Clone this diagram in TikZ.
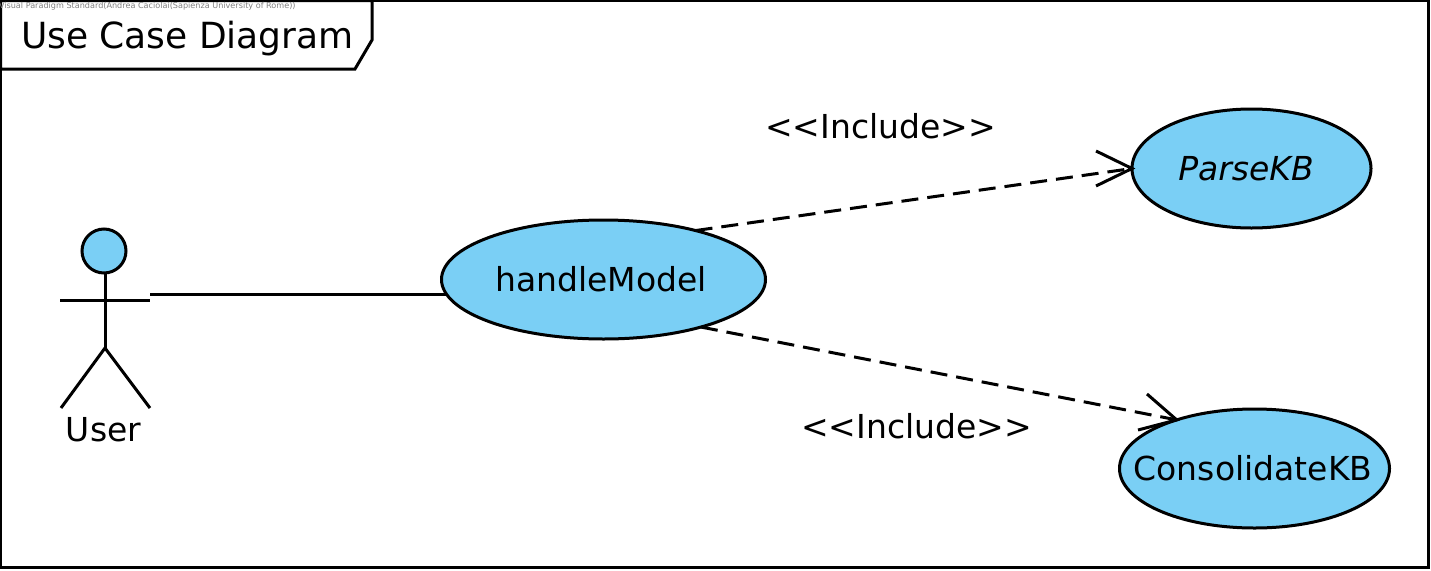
\documentclass[tikz,border=0pt]{standalone}
\usepackage{fontspec}
\setmainfont{DejaVu Sans}
\usetikzlibrary{shapes.geometric}
\definecolor{ucfill}{RGB}{122,207,245}
\tikzset{
  every path/.style={line width=3pt,line join=miter},
  usecase/.style={ellipse,draw=black,fill=ucfill,inner sep=0pt,outer sep=0pt,font=\fontsize{33}{37}\selectfont},
  actorhead/.style={circle,draw=black,fill=ucfill,inner sep=0pt,outer sep=0pt,minimum size=44pt},
  lbl/.style={inner sep=0pt,outer sep=0pt,font=\fontsize{33}{37}\selectfont},
  dep/.style={dash pattern=on 17pt off 9pt}
}
\begin{document}
\begin{tikzpicture}[x=1pt,y=-1pt]
\useasboundingbox (0,0) rectangle (1431,570);
\fill[white] (0,0) rectangle (1431,570);
\node[draw=black,line width=3pt,inner sep=0pt,outer sep=0pt,minimum width=1428pt,minimum height=566.5pt] (frame) at (714.5,283.75) {};
\draw[fill=white] (frame.north west) -- (372,0.5) -- (372,40) -- (355,69) -- (0.5,69) -- cycle;
\node[lbl,font=\fontsize{36}{40}\selectfont,anchor=base west] (title) at (21,48) {Use Case Diagram};
\node[inner sep=0pt,outer sep=0pt,text=gray,font=\fontsize{8.1}{9}\selectfont,anchor=base west] (stamp) at (-1,9) {Visual Paradigm Standard(Andrea Caciolai(Sapienza University of Rome))};
% actor
\node[actorhead] (head) at (104,251) {};
\coordinate (neck) at (105,273);
\coordinate (hip) at (105,348);
\coordinate (armL) at (60,300);
\coordinate (armR) at (150,300);
\coordinate (footL) at (61,408);
\coordinate (footR) at (150,408);
\coordinate (assoc) at (150,294.5);
\draw (neck) -- (hip);
\draw (armL) -- (armR);
\draw (footL) -- (hip) -- (footR);
\node[lbl,anchor=base] (user) at (103.5,441) {User};
% use cases
\node[usecase,minimum width=324pt,minimum height=119pt] (handle) at (603.5,279.5) {\makebox[0pt]{handleModel\hspace*{5pt}}};
\node[usecase,minimum width=239pt,minimum height=119pt,font=\fontsize{33}{37}\selectfont\itshape] (parse) at (1251.5,168.5) {\makebox[0pt]{ParseKB\hspace*{11pt}}};
\node[usecase,minimum width=270pt,minimum height=119pt] (cons) at (1254.5,468.5) {\makebox[0pt]{ConsolidateKB\hspace*{3pt}}};
% connectors
\draw (assoc) -- ([xshift=4pt]handle.west |- assoc);
\draw[dep] (handle.28.9) -- (parse.west);
\draw[dep] (handle.-26.2) -- (cons.148.6);
\coordinate (p1) at (1096,151);
\coordinate (p2) at (1096,186);
\coordinate (c1) at (1147,394);
\coordinate (c2) at (1138,430);
\draw (p1) -- (parse.west) -- (p2);
\draw (c1) -- (cons.148.6) -- (c2);
\node[lbl,anchor=base] (inc1) at (880.5,138) {<{}<Include>{}>};
\node[lbl,anchor=base] (inc2) at (916.5,438) {<{}<Include>{}>};
\end{tikzpicture}
\end{document}
